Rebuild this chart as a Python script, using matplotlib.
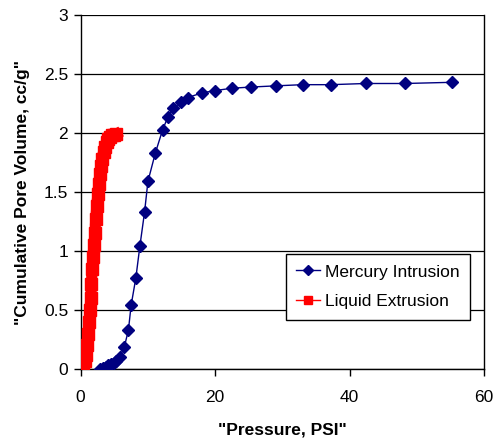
import matplotlib.pyplot as plt

plt.rcParams['font.family'] = ['Liberation Sans', 'DejaVu Sans']

# Mercury intrusion (pressure PSI, cumulative pore volume cc/g)
hg_psi = [2.9, 3.3, 3.7, 4.1, 4.5, 4.9, 5.3, 5.8, 6.5, 7.1, 7.5, 8.2, 8.8, 9.5,
          10.0, 11.1, 12.2, 13.0, 13.8, 14.9, 15.9, 18.0, 20.0, 22.5, 25.4,
          29.0, 33.0, 37.2, 42.4, 48.2, 55.2]
hg_vol = [0.0, 0.01, 0.02, 0.03, 0.04, 0.05, 0.07, 0.10, 0.19, 0.33, 0.54, 0.77,
          1.04, 1.33, 1.59, 1.83, 2.03, 2.14, 2.21, 2.26, 2.30, 2.34, 2.36, 2.38,
          2.39, 2.40, 2.41, 2.41, 2.42, 2.42, 2.43]

# Liquid extrusion
le_psi = [0.0, 0.2, 0.4, 0.6, 0.8, 1.0, 1.15, 1.3, 1.4, 1.5, 1.6, 1.7, 1.85,
          2.0, 2.1, 2.25, 2.4, 2.55, 2.7, 2.85, 3.0, 3.2, 3.4, 3.6, 3.85, 4.1,
          4.4, 4.7, 5.0, 5.3]
le_vol = [0.0, 0.02, 0.04, 0.07, 0.12, 0.2, 0.3, 0.4, 0.5, 0.6, 0.72, 0.85,
          0.95, 1.05, 1.15, 1.27, 1.38, 1.48, 1.57, 1.65, 1.72, 1.78, 1.84, 1.88,
          1.92, 1.95, 1.97, 1.98, 1.98, 1.99]

fig = plt.figure(figsize=(4.95, 4.43), dpi=100)
ax = fig.add_axes([0.163, 0.167, 0.815, 0.799])

ax.plot(hg_psi, hg_vol, color="#000080", lw=1, marker="D", ms=6.5,
        mec="#000080", mfc="#000080", label="Mercury Intrusion", zorder=3)
ax.plot(le_psi, le_vol, color="#FF0000", lw=8, marker="s", ms=8.5,
        mec="#FF0000", mfc="#FF0000", label="Liquid Extrusion", zorder=4)

ax.set_xlim(0, 60)
ax.set_ylim(0, 3)
ax.set_xticks([0, 20, 40, 60])
ax.set_yticks([0, 0.5, 1, 1.5, 2, 2.5, 3])
ax.set_yticklabels(["0", "0.5", "1", "1.5", "2", "2.5", "3"])
ax.yaxis.grid(True, color="black", lw=0.9)
ax.set_axisbelow(True)
ax.spines["top"].set_visible(False)
for s in ["left", "right", "bottom"]:
    ax.spines[s].set_linewidth(1)
ax.tick_params(direction="out", length=5, width=1, labelsize=12.5, pad=4)
ax.tick_params(axis="x", pad=10)

ax.set_xlabel('"Pressure, PSI"', fontsize=12.5, fontweight="bold", labelpad=13)
ax.set_ylabel('"Cumulative Pore Volume, cc/g"', fontsize=12.5,
              fontweight="bold", labelpad=10)

leg = ax.legend(loc="upper left", bbox_to_anchor=(0.509, 0.325),
                borderaxespad=0, fontsize=12.5, frameon=True, fancybox=False,
                framealpha=1, edgecolor="black", handlelength=1.35,
                handletextpad=0.3, borderpad=0.6, labelspacing=0.85,
                markerscale=0.75)
leg.get_frame().set_linewidth(1)
for h in leg.get_lines():
    h.set_linewidth(1)

fig.savefig("out.png", dpi=100)
